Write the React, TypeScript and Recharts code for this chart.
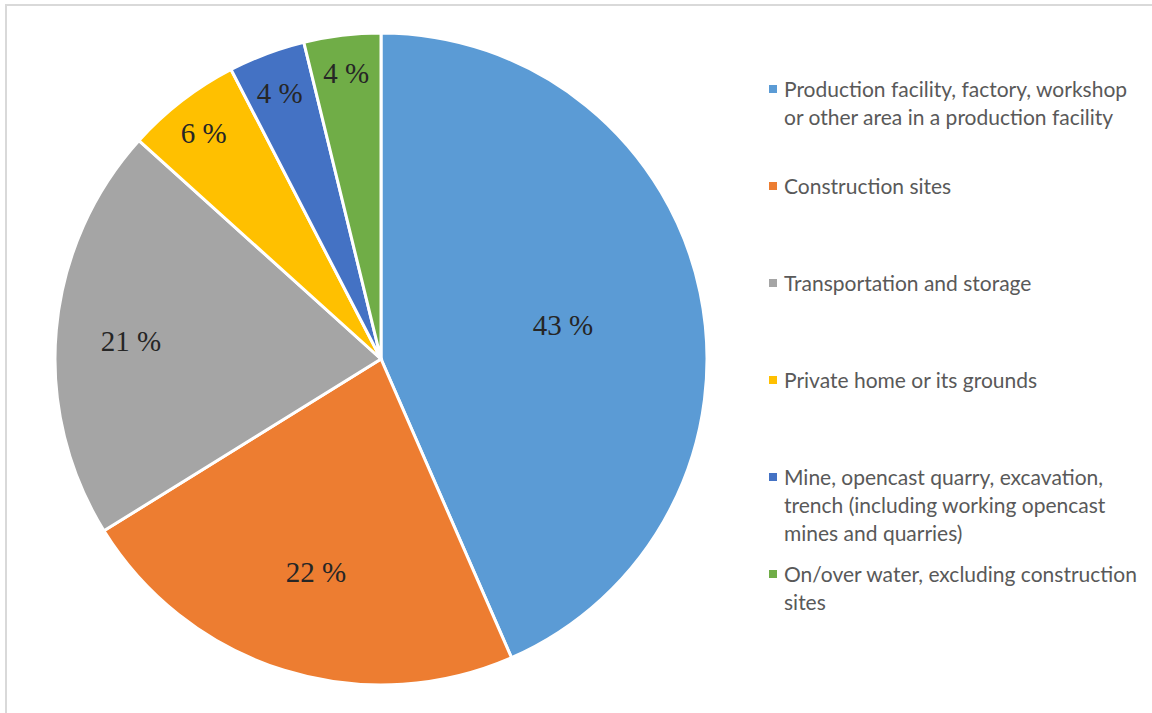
import React from 'react';
import { PieChart, Pie, Cell, Legend } from 'recharts';

// Locations of accidents, share of total (%)
const categories = [
  'Production facility, factory, workshop or other area in a production facility',
  'Construction sites',
  'Transportation and storage',
  'Private home or its grounds',
  'Mine, opencast quarry, excavation, trench (including working opencast mines and quarries)',
  'On/over water, excluding construction sites',
];
const shares = [43.4, 22.7, 20.5, 5.7, 3.8, 3.8];
const labels = ['43 %', '22 %', '21 %', '6 %', '4 %', '4 %'];

const colors = ['#5B9BD5', '#ED7D31', '#A5A5A5', '#FFC000', '#4472C4', '#70AD47'];
// how far out (fraction of radius) each data label sits, like Excel's best fit
const labelRadius = [0.57, 0.67, 0.77, 0.89, 0.885, 0.895];

const RAD = Math.PI / 180;

const chartData = categories.map((name, i) => ({ name, value: shares[i], label: labels[i] }));

const renderLabel = (props: any) => {
  const { cx, cy, midAngle, outerRadius, index } = props;
  const r = outerRadius * labelRadius[index];
  const x = cx + r * Math.cos(-midAngle * RAD);
  const y = cy + r * Math.sin(-midAngle * RAD) + 4;
  return (
    <text
      x={x}
      y={y}
      textAnchor="middle"
      dominantBaseline="central"
      fill="#262626"
      fontFamily="'Liberation Serif', serif"
      fontSize={29}
    >
      {labels[index]}
    </text>
  );
};

const LegendContent = () => (
  <div style={{ fontFamily: "Lato, 'Open Sans', sans-serif", fontSize: 21, color: '#595959' }}>
    {categories.map((name, i) => (
      <div key={name} style={{ position: 'relative', height: 97, paddingLeft: 15 }}>
        <span
          style={{
            position: 'absolute',
            left: 0,
            top: 10,
            width: 8,
            height: 8,
            background: colors[i],
          }}
        />
        <div style={{ lineHeight: '28px', width: 358 }}>{name}</div>
      </div>
    ))}
  </div>
);

export default function App() {
  return (
    <div
      style={{
        position: 'fixed',
        left: 0,
        top: 0,
        width: 1152,
        height: 713,
        overflow: 'hidden',
        background: '#fff',
      }}
    >
      <div
        style={{
          position: 'absolute',
          left: 5,
          top: 4,
          width: 1200,
          height: 760,
          border: '2px solid #d9d9d9',
        }}
      />
      <div style={{ position: 'absolute', left: 0, top: 0 }}>
        <PieChart width={1152} height={713} margin={{ top: 0, right: 0, bottom: 0, left: 0 }}>
          <Pie
            data={chartData}
            dataKey="value"
            nameKey="name"
            cx={381}
            cy={359}
            outerRadius={326}
            startAngle={90}
            endAngle={-270}
            stroke="#ffffff"
            strokeWidth={3}
            label={renderLabel}
            labelLine={false}
            isAnimationActive={false}
          >
            {chartData.map((d, i) => (
              <Cell key={d.name} fill={colors[i]} />
            ))}
          </Pie>
          <Legend
            content={<LegendContent />}
            wrapperStyle={{ position: 'absolute', left: 769, top: 75, width: 380 }}
          />
        </PieChart>
      </div>
    </div>
  );
}
